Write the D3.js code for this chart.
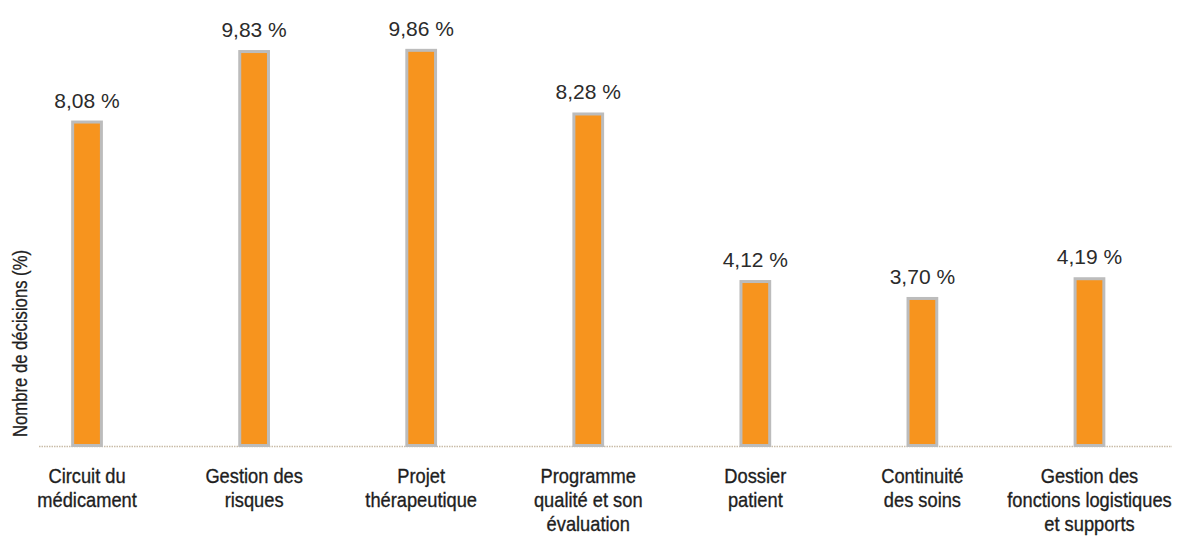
<!DOCTYPE html>
<html lang="fr">
<head>
<meta charset="utf-8">
<script src="https://cdn.jsdelivr.net/npm/d3@7"></script>
<style>
  html, body { margin: 0; padding: 0; background: #fff; }
  svg { display: block; }
</style>
</head>
<body>
<svg id="chart" width="1187" height="536"></svg>
<script>
// Part des décisions par thématique
const categories = [
  ["Circuit du", "médicament"],
  ["Gestion des", "risques"],
  ["Projet", "thérapeutique"],
  ["Programme", "qualité et son", "évaluation"],
  ["Dossier", "patient"],
  ["Continuité", "des soins"],
  ["Gestion des", "fonctions logistiques", "et supports"]
];
const values = [8.08, 9.83, 9.86, 8.28, 4.12, 3.70, 4.19];
const valueLabels = ["8,08 %", "9,83 %", "9,86 %", "8,28 %", "4,12 %", "3,70 %", "4,19 %"];
const yTitle = "Nombre de décisions (%)";

const svg = d3.select("#chart");
const baseY = 446;

const x = d3.scaleBand()
  .domain(d3.range(categories.length))
  .range([3.5, 1173])
  .paddingInner(0.81)
  .paddingOuter(0.405);

const y = d3.scaleLinear()
  .domain([0, 10])
  .range([baseY, baseY - 402.8]);

const font = "'Liberation Sans', Arial, Helvetica, sans-serif";

// Baseline
svg.append("line")
  .attr("x1", 39).attr("x2", 1172)
  .attr("y1", baseY + 0.5).attr("y2", baseY + 0.5)
  .attr("stroke", "#c9bca8")
  .attr("stroke-width", 1.5)
  .attr("stroke-dasharray", "1.5,1");

// Bars
const bw = x.bandwidth();
const cx = i => x(i) + bw / 2;
svg.append("g").selectAll("rect")
  .data(values)
  .join("rect")
  .attr("x", (d, i) => x(i) + 1.5)
  .attr("y", d => y(d) + 1.5)
  .attr("width", bw - 3)
  .attr("height", d => baseY - y(d) - 2)
  .attr("fill", "#f7941e")
  .attr("stroke", "#bcbcbc")
  .attr("stroke-width", 3);

// Value labels
svg.append("g").selectAll("text")
  .data(values)
  .join("text")
  .attr("x", (d, i) => cx(i))
  .attr("y", d => y(d) - 13)
  .attr("text-anchor", "middle")
  .attr("font-family", font)
  .attr("font-size", 21)
  .attr("fill", "#2b2b2b")
  .text((d, i) => valueLabels[i]);

// Category labels (condensed)
const cat = svg.append("g").selectAll("text")
  .data(categories)
  .join("text")
  .attr("transform", (d, i) => `translate(${cx(i)},483) scale(0.87,1)`)
  .attr("text-anchor", "middle")
  .attr("font-family", font)
  .attr("font-size", 21)
  .attr("fill", "#1e1e1e")
  .attr("stroke", "#1e1e1e")
  .attr("stroke-width", 0.35);
cat.selectAll("tspan")
  .data(d => d)
  .join("tspan")
  .attr("x", 0)
  .attr("dy", (d, j) => j === 0 ? 0 : 24)
  .text(d => d);

// Axis title
svg.append("text")
  .attr("transform", `translate(27, 343.5) rotate(-90) scale(0.855,1)`)
  .attr("text-anchor", "middle")
  .attr("font-family", font)
  .attr("font-size", 19.5)
  .attr("fill", "#1e1e1e")
  .attr("stroke", "#1e1e1e")
  .attr("stroke-width", 0.3)
  .text(yTitle);
</script>
</body>
</html>
